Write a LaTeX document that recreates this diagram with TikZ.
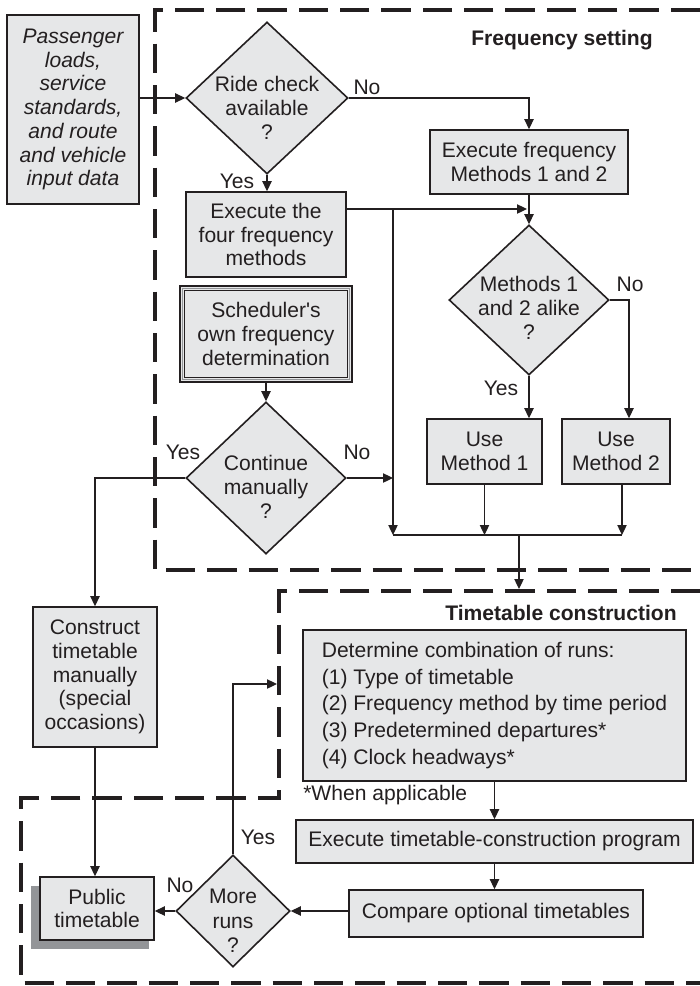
\documentclass[tikz,border=0pt]{standalone}
\usepackage{fontspec}
\setmainfont{Liberation Sans}
\usetikzlibrary{arrows.meta,shapes.geometric,calc}
\definecolor{ink}{HTML}{231F20}
\definecolor{boxfill}{HTML}{E6E7E8}
\definecolor{shadowgray}{HTML}{939598}
\newcommand{\nf}{\fontsize{15.8pt}{17.8pt}\selectfont}
\begin{document}
\begin{tikzpicture}[x=0.75pt,y=-0.75pt,
  every node/.style={font=\nf, text=ink},
  box/.style 2 args={draw=ink, fill=boxfill, line width=1.2pt, align=center,
    inner sep=0pt, minimum width=#1*0.75pt, minimum height=#2*0.75pt},
  dia/.style 2 args={diamond, draw=ink, fill=boxfill, line width=1.2pt,
    inner sep=0pt, minimum width=#1*0.75pt, minimum height=#2*0.75pt},
  dtext/.style={align=center, inner sep=0pt, font=\fontsize{15.8pt}{18.2pt}\selectfont},
  lbl/.style={inner sep=0pt},
  line/.style={draw=ink, line width=0.9pt},
  arr/.style={line, -{Triangle[length=7.5pt,width=7pt]}},
  frame/.style={draw=ink, line width=2.6pt, dash pattern=on 22pt off 9pt}]

\useasboundingbox (0,0) rectangle (700,986);

% dashed group frames
\draw[frame] (700,10) -- (155,10) -- (155,570) -- (700,570);
\draw[frame] (700,591) -- (279,591) -- (279,798) -- (21,798) -- (21,983) -- (700,983);

\node[lbl, font=\nf\bfseries] (t1) at (562,40) {Frequency setting};
\node[lbl, font=\nf\bfseries] (t2) at (561,613) {Timetable construction};

% input data
\node[box={132}{189}, font=\nf\itshape] (inp) at (73,109.5)
  {Passenger\\loads,\\service\\standards,\\and route\\and vehicle\\input data};

% frequency setting
\node[dia={162}{152}] (d1) at (267,98) {};
\node[dtext] (d1t) at ($(d1)+(0,10)$) {Ride check\\available\\?};
\node[box={160}{85}] (ex4) at (266,234.5) {Execute the\\four frequency\\methods};
\node[box={198}{64}] (m12) at (529,162) {Execute frequency\\Methods 1 and 2};

\node[box={172}{96}, draw=none] (sch) at (266,334) {};
\draw[ink, line width=1.6pt] ($(sch.north west)+(1,1)$) rectangle ($(sch.south east)+(-1,-1)$);
\draw[shadowgray, line width=1.2pt] ($(sch.north west)+(3.3,3.3)$) rectangle ($(sch.south east)+(-3.3,-3.3)$);
\draw[ink, line width=0.8pt] ($(sch.north west)+(5.2,5.2)$) rectangle ($(sch.south east)+(-5.2,-5.2)$);
\node[dtext, font=\nf] (scht) at (sch) {Scheduler\textquotesingle s\\own frequency\\determination};

\node[dia={160}{152}] (d3) at (266,478) {};
\node[dtext] (d3t) at ($(d3)+(0,9)$) {Continue\\manually\\?};
\node[dia={160}{150}] (d2) at (529,300) {};
\node[dtext] (d2t) at ($(d2)+(0,8)$) {Methods 1\\and 2 alike\\?};
\node[box={115}{65}] (um1) at (484.5,451.5) {Use\\Method 1};
\node[box={108}{65}] (um2) at (616,451.5) {Use\\Method 2};

% manual path
\node[box={124}{140}] (con) at (95,677) {Construct\\timetable\\manually\\(special\\occasions)};
\fill[shadowgray] (31,886) rectangle (149,949);
\node[box={114}{63}] (pub) at (97,908.5) {Public\\timetable};
\node[dia={114}{112}] (d4) at (233,911) {};
\node[dtext] (d4t) at ($(d4)+(0,10)$) {More\\runs\\?};

% timetable construction
\node[box={383}{151}, align=left, font=\fontsize{15.8pt}{19.9pt}\selectfont] (det) at (494.5,705.5)
  {Determine combination of runs:\\(1) Type of timetable\\(2) Frequency method by time period\\(3) Predetermined departures*\\(4) Clock headways*};
\node[lbl, anchor=west] (note) at (303,795) {*When applicable};
\node[box={397}{43}] (ett) at (494.5,841.5) {Execute timetable-construction program};
\node[box={294}{47}] (cmp) at (496,913.5) {Compare optional timetables};

% junction points
\coordinate (j1) at (527,209);
\coordinate (tap) at (393,209);
\coordinate (mL) at (393,535);
\coordinate (mR) at (622,535);
\coordinate (mO) at (519,535);
\coordinate (tin) at (519,589);
\coordinate (back) at (277,684);
\coordinate (um2d) at ($(um2.south)+(6,0)$);
\coordinate (d2r) at ($(um2.north)+(13,0)$);

% connectors
\draw[arr] (inp.east |- d1.west) -- (d1.west);
\draw[arr] (d1.south) -- (d1.south |- ex4.north);
\draw[arr] (d1.east) -| (m12.north);
\draw[arr] (m12.south) -- (d2.north);
\draw[arr] (ex4.east |- j1) -- (j1);
\draw[arr] (tap) -- (mL);
\draw[arr] (d2.south) -- (d2.south |- um1.north);
\draw[arr] (d2.east) -| (d2r);
\draw[arr] (um1.south) -- (um1.south |- mL);
\draw[arr] (um2d) -- (um2d |- mR);
\draw[line] (mL) -- (mR);
\draw[arr] (mO) -- (tin);
\draw[arr] (sch.south) -- (d3.north);
\draw[arr] (d3.east) -- (d3.east -| tap);
\draw[arr] (d3.west) -| (con.north);
\draw[arr] (con.south) -- (con.south |- pub.north);
\draw[arr] (det.south) -- (det.south |- ett.north);
\draw[arr] (ett.south) -- (ett.south |- cmp.north);
\draw[arr] (cmp.west |- d4.east) -- (d4.east);
\draw[arr] (d4.west) -- (d4.west -| pub.east);
\draw[arr] (d4.north) |- (back);

% branch labels
\node[lbl] (y1) at (237,181) {Yes};
\node[lbl] (n1) at (367,87) {No};
\node[lbl] (n2) at (630,284) {No};
\node[lbl] (y2) at (501,388) {Yes};
\node[lbl] (y3) at (183,452) {Yes};
\node[lbl] (n3) at (357,452) {No};
\node[lbl] (n4) at (180,885) {No};
\node[lbl] (y4) at (258,837) {Yes};
\end{tikzpicture}
\end{document}
